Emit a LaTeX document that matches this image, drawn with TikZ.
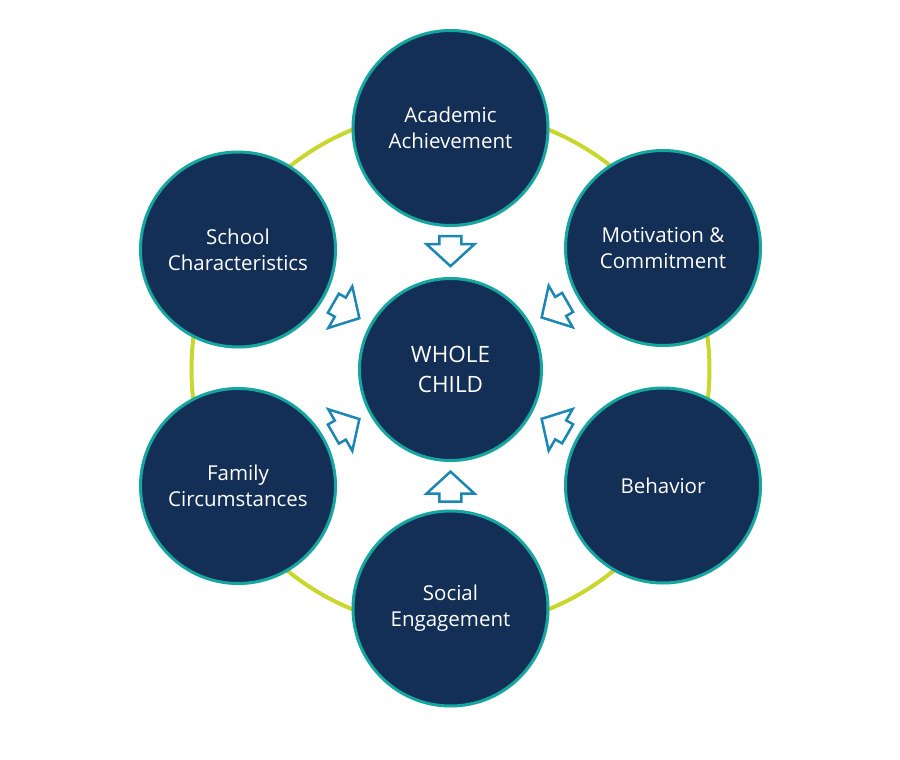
\documentclass[tikz,border=0pt]{standalone}
\usepackage{fontspec}
\setmainfont{Open Sans}
\usetikzlibrary{calc,shadows}
\definecolor{navy}{RGB}{19,47,86}
\definecolor{rim}{RGB}{22,166,160}
\definecolor{ring}{RGB}{201,214,44}
\definecolor{arrowblue}{RGB}{28,134,180}

\begin{document}
\begin{tikzpicture}[x=1pt, y=1pt,
    bubble/.style={circle, fill=navy, draw=rim, line width=3pt, minimum size=195pt,
      inner sep=0pt, text=white, align=center, font=\fontsize{20.5}{26}\selectfont,
      drop shadow={shadow xshift=1.5pt, shadow yshift=-1.5pt, opacity=0.25}},
    hub/.style={bubble, minimum size=182pt, font=\fontsize{22.5}{30}\selectfont},
    inarrow/.style={draw=arrowblue, fill=white, line width=2.5pt, line join=miter}]
    \useasboundingbox (-450.5,-392) rectangle (449.5,368);

    % ring behind the circles
    \draw[ring, line width=4pt] (0,-1.5) circle (259);

    % circles
    \node[hub] (whole) at (0,-1.5) {WHOLE\\CHILD};
    \node[bubble] (academic) at (0,240) {Academic\\Achievement};
    \node[bubble] (motivation) at (212.5,120) {Motivation \&\\Commitment};
    \node[bubble] (behavior) at (212.5,-117.5) {Behavior};
    \node[bubble] (social) at (0,-240.5) {Social\\Engagement};
    \node[bubble] (family) at (-212.5,-118) {Family\\Circumstances};
    \node[bubble] (school) at (-212.5,118.5) {School\\Characteristics};

    % arrows towards the centre
    \foreach \n/\a in {academic/90, motivation/30, behavior/-30, social/-90, family/210, school/150} {
      \draw[inarrow, shift={($(\n)!0.51!(whole)$)}, rotate=\a+180]
        (-15,11) -- (-7,11) -- (-7,24) -- (15,0) -- (-7,-24) -- (-7,-11) -- (-15,-11) -- cycle;
    }
\end{tikzpicture}
\end{document}
